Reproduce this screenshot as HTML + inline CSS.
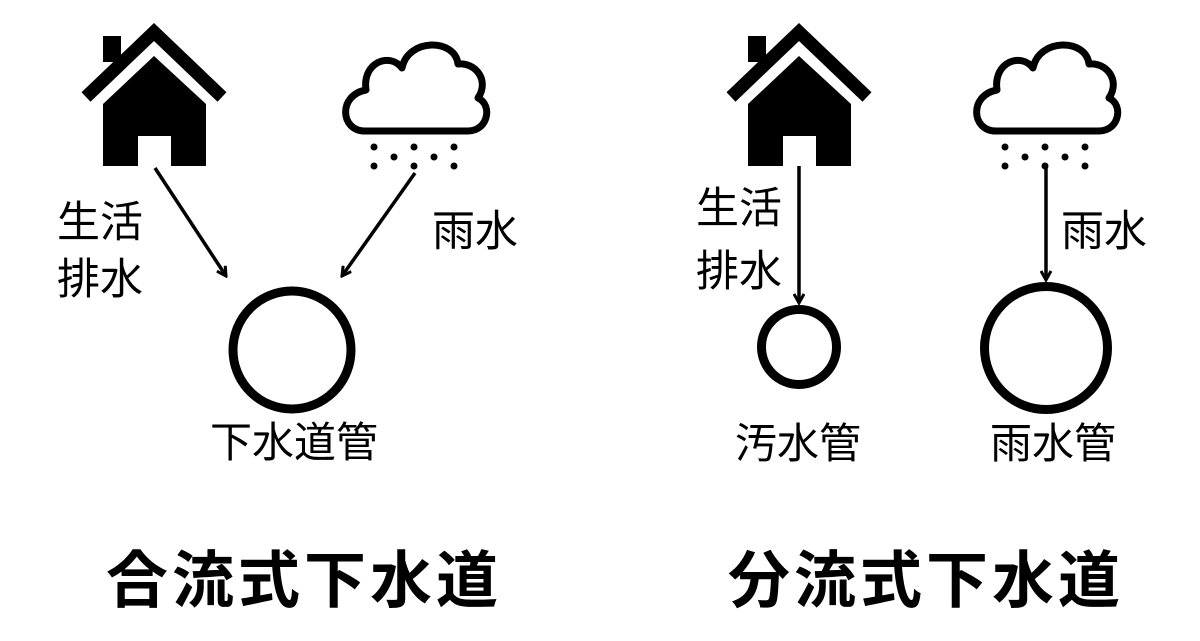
<!DOCTYPE html>
<html><head><meta charset="utf-8"><style>
html,body{margin:0;padding:0;background:#fff;}
svg{display:block}
text{font-family:"Liberation Sans","Noto Sans CJK JP",sans-serif;fill:#000}
</style></head><body>
<svg width="1200" height="641" viewBox="0 0 1200 641">
<defs>
<g id="house">
<rect x="103" y="36" width="18" height="26"/>
<polyline points="86,97 154,32 222,97" fill="none" stroke="#000" stroke-width="13"/>
<path d="M103,104 L154,56 L206,104 L206,166 L171,166 L171,136 L138,136 L138,166 L103,166 Z"/>
</g>
<g id="cloud">
<path d="M365,131 C340,131 338,95 366,90 C362,62 390,52 402,68 C408,38 455,38 458,64 C475,62 490,80 478,98 C493,105 488,131 468,131 Z" fill="none" stroke="#000" stroke-width="7" stroke-linejoin="round"/>
<g>
<circle cx="374" cy="147" r="3.5"/><circle cx="414" cy="147" r="3.5"/><circle cx="454" cy="147" r="3.5"/>
<circle cx="394" cy="157" r="3.5"/><circle cx="434" cy="157" r="3.5"/>
<circle cx="374" cy="166" r="3.5"/><circle cx="414" cy="166" r="3.5"/><circle cx="454" cy="166" r="3.5"/>
</g>
</g>
<marker id="ah" markerWidth="12" markerHeight="12" refX="10" refY="6" orient="auto" markerUnits="userSpaceOnUse">
<polyline points="1,1 10,6 1,11" fill="none" stroke="#000" stroke-width="3"/>
</marker>
</defs>
<use href="#house"/>
<use href="#cloud"/>
<use href="#house" transform="translate(645,0)"/>
<use href="#cloud" transform="translate(631,0)"/>

<line x1="155" y1="168" x2="226" y2="276" stroke="#000" stroke-width="3.5" marker-end="url(#ah)"/>
<line x1="415" y1="173" x2="342" y2="276" stroke="#000" stroke-width="3.5" marker-end="url(#ah)"/>
<line x1="799" y1="166" x2="799" y2="303" stroke="#000" stroke-width="3.5" marker-end="url(#ah)"/>
<line x1="1046" y1="166" x2="1046" y2="280" stroke="#000" stroke-width="3.5" marker-end="url(#ah)"/>

<circle cx="292" cy="350" r="59" fill="none" stroke="#000" stroke-width="9"/>
<circle cx="799" cy="347" r="37.5" fill="none" stroke="#000" stroke-width="9"/>
<circle cx="1046" cy="348" r="61.5" fill="none" stroke="#000" stroke-width="9"/>

<g font-size="43">
<text x="57" y="237">生活</text>
<text x="57" y="294">排水</text>
<text x="432" y="246">雨水</text>
<text x="696" y="223">生活</text>
<text x="696" y="286">排水</text>
<text x="1061" y="246">雨水</text>
</g>
<g font-size="42" text-anchor="middle">
<text x="294" y="457">下水道管</text>
<text x="798" y="458">汚水管</text>
<text x="1053" y="458">雨水管</text>
</g>
<g font-size="62" font-weight="bold" text-anchor="middle" letter-spacing="4">
<text x="304" y="602">合流式下水道</text>
<text x="926" y="602">分流式下水道</text>
</g>
</svg>
</body></html>
